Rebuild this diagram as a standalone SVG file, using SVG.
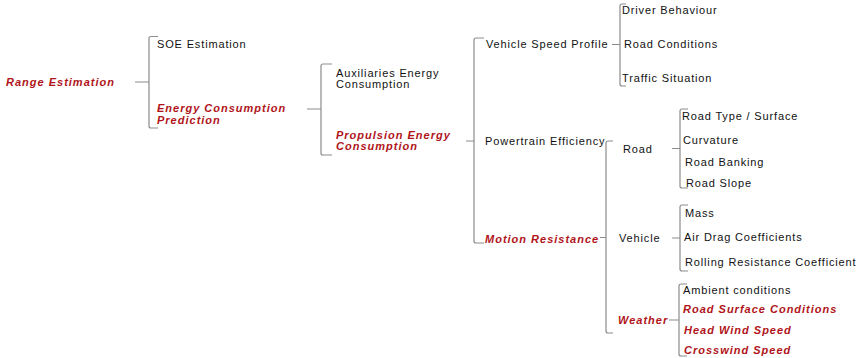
<svg xmlns="http://www.w3.org/2000/svg" width="858" height="358" viewBox="0 0 858 358">
  <style>
    .t { font-family: "Liberation Sans", Arial, sans-serif; font-size: 11px; fill: #111; letter-spacing: 0.85px; }
    .h { font-family: "Liberation Sans", Arial, sans-serif; font-size: 11px; fill: #b0141a; font-weight: bold; font-style: italic; letter-spacing: 1px; }
    .br { fill: none; stroke: #8c8c8c; stroke-width: 1.2; }
  </style>
  <rect width="858" height="358" fill="#fff"/>

  <!-- brackets joining each parent to its children -->
  <g id="connectors">
    <!-- Range Estimation -->
    <path class="br" d="M135 82 H149 M158 36.5 H151 Q149 36.5 149 38.5 V126 Q149 128 151 128 H158"/>
    <!-- Energy Consumption Prediction -->
    <path class="br" d="M307 109 H321 M332 64 H323 Q321 64 321 66 V153 Q321 155 323 155 H332"/>
    <!-- Propulsion Energy Consumption -->
    <path class="br" d="M466 141 H474 M484 38 H476 Q474 38 474 40 V241 Q474 243 476 243 H484"/>
    <!-- Vehicle Speed Profile -->
    <path class="br" d="M612 44.5 H620 M626 4 H622 Q620 4 620 6 V84 Q620 86 622 86 H626"/>
    <!-- Motion Resistance -->
    <path class="br" d="M600 237.5 H606 M613 141 H608 Q606 141 606 143 V331 Q606 333 608 333 H613"/>
    <!-- Road -->
    <path class="br" d="M672 148.5 H680 M688 109 H682 Q680 109 680 111 V186 Q680 188 682 188 H688"/>
    <!-- Vehicle -->
    <path class="br" d="M672 238 H680 M688 205 H682 Q680 205 680 207 V269 Q680 271 682 271 H688"/>
    <!-- Weather -->
    <path class="br" d="M669 320 H679 M687 284 H681 Q679 284 679 286 V354 Q679 356 681 356 H687"/>
  </g>

  <g id="range-estimation"><text class="h" x="6" y="86">Range Estimation</text></g>
  <g id="soe-estimation"><text class="t" x="157" y="48">SOE Estimation</text></g>
  <g id="energy-consumption-prediction">
    <text class="h" x="157" y="112">Energy Consumption</text>
    <text class="h" x="157" y="124">Prediction</text>
  </g>
  <g id="auxiliaries-energy">
    <text class="t" x="336" y="77">Auxiliaries Energy</text>
    <text class="t" x="336" y="88">Consumption</text>
  </g>
  <g id="propulsion-energy">
    <text class="h" x="336" y="139">Propulsion Energy</text>
    <text class="h" x="336" y="150">Consumption</text>
  </g>
  <g id="vehicle-speed-profile"><text class="t" x="486" y="48">Vehicle Speed Profile</text></g>
  <g id="powertrain-efficiency"><text class="t" x="485" y="145">Powertrain Efficiency</text></g>
  <g id="motion-resistance"><text class="h" x="485" y="243">Motion Resistance</text></g>

  <g id="driver-behaviour"><text class="t" x="622" y="14">Driver Behaviour</text></g>
  <g id="road-conditions"><text class="t" x="624" y="48">Road Conditions</text></g>
  <g id="traffic-situation"><text class="t" x="622" y="82">Traffic Situation</text></g>

  <g id="road"><text class="t" x="623" y="153">Road</text></g>
  <g id="vehicle"><text class="t" x="619" y="242">Vehicle</text></g>
  <g id="weather"><text class="h" x="618" y="324">Weather</text></g>

  <g id="road-type"><text class="t" x="682" y="120">Road Type / Surface</text></g>
  <g id="curvature"><text class="t" x="683" y="144">Curvature</text></g>
  <g id="road-banking"><text class="t" x="685" y="166">Road Banking</text></g>
  <g id="road-slope"><text class="t" x="686" y="187">Road Slope</text></g>

  <g id="mass"><text class="t" x="685" y="217">Mass</text></g>
  <g id="air-drag"><text class="t" x="684" y="241">Air Drag Coefficients</text></g>
  <g id="rolling-resistance"><text class="t" x="685" y="266">Rolling Resistance Coefficient</text></g>

  <g id="ambient-conditions"><text class="t" x="683" y="294">Ambient conditions</text></g>
  <g id="road-surface-conditions"><text class="h" x="683" y="313">Road Surface Conditions</text></g>
  <g id="head-wind-speed"><text class="h" x="684" y="334">Head Wind Speed</text></g>
  <g id="crosswind-speed"><text class="h" x="684" y="354">Crosswind Speed</text></g>
</svg>
